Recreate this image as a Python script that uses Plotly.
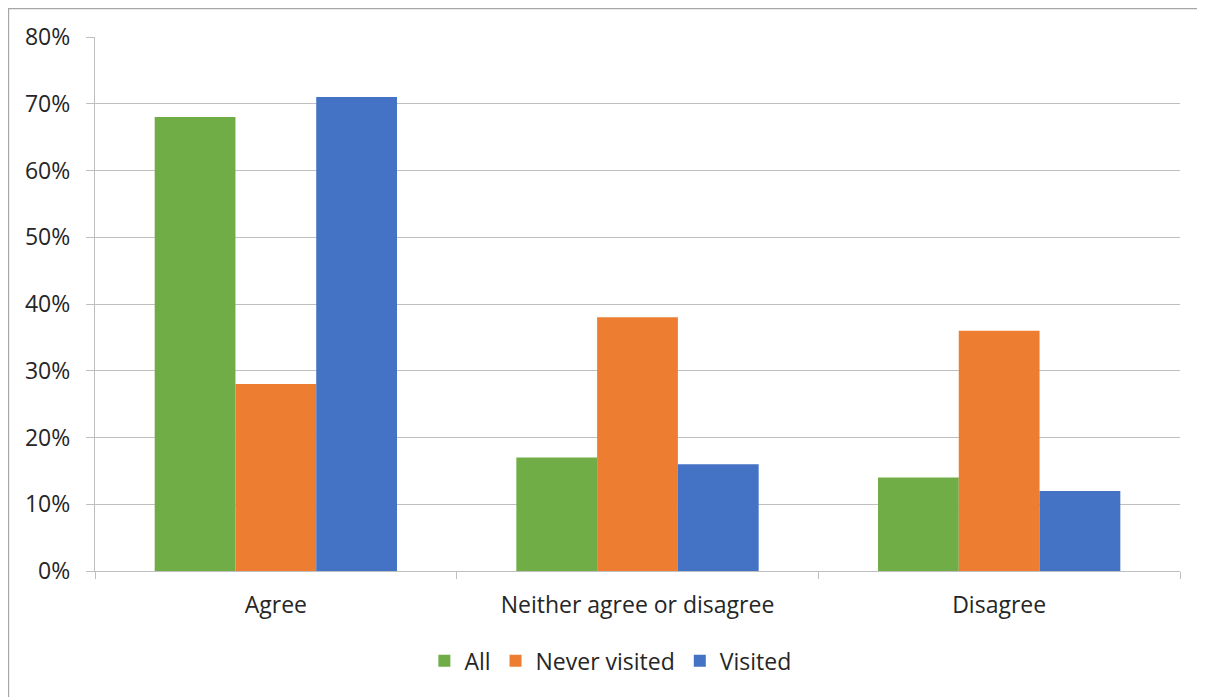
import plotly.graph_objects as go

categories = ["Agree", "Neither agree or disagree", "Disagree"]
series_names = ["All", "Never visited", "Visited"]
all_vals = [0.68, 0.17, 0.14]
never_vals = [0.28, 0.38, 0.36]
visited_vals = [0.71, 0.16, 0.12]
colors = ["#70AD47", "#ED7D31", "#4472C4"]
y_tick_vals = [0, 0.1, 0.2, 0.3, 0.4, 0.5, 0.6, 0.7, 0.8]
y_tick_text = ["0%", "10%", "20%", "30%", "40%", "50%", "60%", "70%", "80%"]

FONT = "Open Sans"
FS = 23
fig = go.Figure()
for name, vals, col in zip(series_names, [all_vals, never_vals, visited_vals], colors):
    fig.add_trace(go.Bar(x=categories, y=vals, name=name, marker=dict(color=col, line=dict(width=0))))

fig.update_layout(
    width=1197, height=689,
    margin=dict(l=87, r=25, t=29, b=126),
    paper_bgcolor="white", plot_bgcolor="white",
    barmode="group", bargap=0.33, bargroupgap=0,
    font=dict(family=FONT, size=FS, color="#262626"),
    showlegend=True,
    legend=dict(orientation="h", x=0.475, xanchor="center", y=-0.128, yanchor="top",
                font=dict(size=FS, color="#262626"), itemwidth=30, traceorder="normal"),
)
fig.update_xaxes(
    showline=True, linecolor="#BFBFBF", linewidth=1.3,
    ticks="outside", tickson="boundaries", ticklen=7, tickcolor="#BFBFBF", tickwidth=1.3,
    showgrid=False, tickfont=dict(size=FS, color="#262626"), ticklabelstandoff=13,
)
fig.update_yaxes(
    range=[0, 0.8], tickvals=y_tick_vals, ticktext=y_tick_text,
    showline=True, linecolor="#BFBFBF", linewidth=1.3,
    ticks="outside", ticklen=8, tickcolor="#BFBFBF", tickwidth=1.3,
    showgrid=True, gridcolor="#BFBFBF", gridwidth=1.3, zeroline=False,
    tickfont=dict(size=FS, color="#262626"), ticklabelstandoff=11,
)
fig.add_shape(type="rect", xref="paper", yref="paper",
              x0=-0.0797, x1=1.05, y0=-0.3, y1=1.0534,
              line=dict(color="#A6A6A6", width=1.3), fillcolor="rgba(0,0,0,0)", layer="below")
fig.write_html("out.html")
